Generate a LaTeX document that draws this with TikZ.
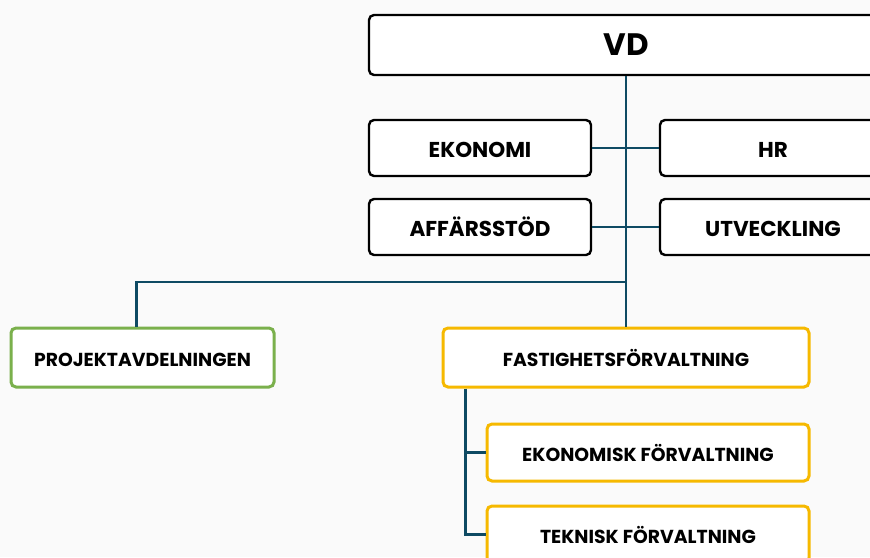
\documentclass[tikz,border=0pt]{standalone}
\usepackage{fontspec}
\setmainfont{Poppins}
\definecolor{linje}{RGB}{14,74,99}
\definecolor{gron}{RGB}{122,176,76}
\definecolor{gul}{RGB}{246,185,0}
\definecolor{bakgrund}{RGB}{250,250,250}
\tikzset{x=1pt, y=-1pt}
\tikzset{
 ruta/.style={draw=black, line width=2.4pt, rounded corners=5pt, fill=white,
  inner sep=0pt, text height=18.5pt, text depth=0pt, font=\bfseries\fontsize{21.5}{24}\selectfont},
 enhet/.style={ruta, line width=3pt, text height=18pt, font=\bfseries\fontsize{18.8}{22}\selectfont},
 gren/.style={draw=linje, line width=2.6pt}
}
\begin{document}
\begin{tikzpicture}
\useasboundingbox[fill=bakgrund] (0,0) rectangle (870,557);
% ledning
\node[ruta, minimum width=514pt, minimum height=60pt, text height=21.7pt, font=\bfseries\fontsize{31}{34}\selectfont]
 (vd) at (626,45) {VD};
% stab
\node[ruta, minimum width=222pt, minimum height=56pt] (ekonomi) at (480,148) {EKONOMI};
\node[ruta, minimum width=226pt, minimum height=56pt] (hr) at (773,148) {HR};
\node[ruta, minimum width=222pt, minimum height=56pt] (affar) at (480,227) {AFFÄRSSTÖD};
\node[ruta, minimum width=226pt, minimum height=56pt] (utv) at (773,227) {UTVECKLING};
% avdelningar
\node[enhet, draw=gron, minimum width=263pt, minimum height=59pt] (projekt) at (142.5,357.5) {PROJEKTAVDELNINGEN};
\node[enhet, draw=gul, minimum width=366pt, minimum height=59pt] (fastig) at (626,357.5) {FASTIGHETSFÖRVALTNING};
\node[enhet, draw=gul, minimum width=322pt, minimum height=57pt] (ekforv) at (648,452.5) {EKONOMISK FÖRVALTNING};
\node[enhet, draw=gul, minimum width=322pt, minimum height=57pt] (tekforv) at (648,534.5) {TEKNISK FÖRVALTNING};
% linjer
\coordinate (delning) at (626,282);
\coordinate (stam) at ([xshift=24pt]fastig.south west);
\draw[gren] (vd.south) -- (fastig.north);
\foreach \a/\b in {ekonomi/hr, affar/utv}
 \draw[gren] (\a.east) -- (\b.west);
\draw[gren] ([xshift=-6pt]projekt.north) |- (delning);
\draw[gren] (stam) |- (tekforv.west);
\draw[gren] (ekforv.west) -- (ekforv.west -| stam);
\end{tikzpicture}
\end{document}
